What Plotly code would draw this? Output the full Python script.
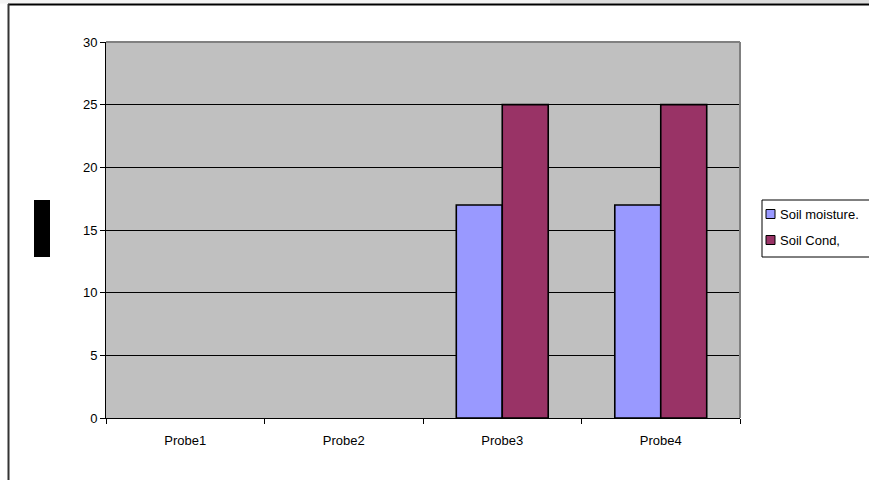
import plotly.graph_objects as go

# ── Dados ─────────────────────────────────────────────────────────────────────
probes = ["Probe1", "Probe2", "Probe3", "Probe4"]
soil_moisture = [None, None, 17, 17]
soil_cond = [None, None, 25, 25]
series_names = ["Soil moisture.", "Soil Cond,"]
series_colors = ["#9999FF", "#993366"]
y_ticks = [0, 5, 10, 15, 20, 25, 30]

# ── Geometria (pixels da janela 869x480) ──────────────────────────────────────
W, H = 869, 480
L, R, T, B = 106, 740, 42, 418


def px(x):
    return (x - L) / (R - L)


def py(y):
    return (B - y) / (B - T)


fig = go.Figure()
for vals, name, color in zip([soil_moisture, soil_cond], series_names, series_colors):
    fig.add_trace(go.Bar(
        x=probes, y=vals, name=name,
        marker=dict(color=color, line=dict(color="#000", width=1.6)),
    ))

shapes = [
    # faixa cinza no topo
    dict(type="rect", xref="paper", yref="paper", x0=px(0), x1=px(W), y0=py(3.5), y1=py(0),
         fillcolor="#f4f4f4", line_width=0, layer="below"),
    dict(type="rect", xref="paper", yref="paper", x0=px(550), x1=px(W), y0=py(3.5), y1=py(0),
         fillcolor="#dcdcdc", line_width=0, layer="below"),
    # moldura externa
    dict(type="line", xref="paper", yref="paper", x0=px(8), x1=px(W), y0=py(4.5), y1=py(4.5),
         line=dict(color="#000", width=2)),
    dict(type="line", xref="paper", yref="paper", x0=px(8.5), x1=px(8.5), y0=py(4), y1=py(H),
         line=dict(color="#333", width=2)),
    # borda superior/direita da área do gráfico
    dict(type="line", xref="paper", yref="paper", x0=0, x1=1, y0=1, y1=1,
         line=dict(color="#808080", width=2)),
    dict(type="line", xref="paper", yref="paper", x0=1, x1=1, y0=0, y1=1,
         line=dict(color="#808080", width=2)),
    # bloco preto do título do eixo Y
    dict(type="rect", xref="paper", yref="paper", x0=px(34), x1=px(50), y0=py(257), y1=py(200),
         fillcolor="#000", line_width=0),
    # caixa da legenda (corta na borda direita, como no original)
    dict(type="rect", xref="paper", yref="paper", x0=px(762), x1=px(W + 20), y0=py(257), y1=py(200),
         fillcolor="#fff", line=dict(color="#000", width=1)),
]

# ── Legenda manual ────────────────────────────────────────────────────────────
annotations = []
for i, (name, color) in enumerate(zip(series_names, series_colors)):
    yc = 214 + i * 26
    shapes.append(dict(
        type="rect", xref="paper", yref="paper",
        x0=px(766), x1=px(775), y0=py(yc + 4.5), y1=py(yc - 4.5),
        fillcolor=color, line=dict(color="#000", width=1),
    ))
    annotations.append(dict(
        text=name, xref="paper", yref="paper", x=px(778), y=py(yc),
        xanchor="left", yanchor="middle", showarrow=False,
        font=dict(size=13, color="#000"),
    ))

fig.update_layout(
    width=W, height=H,
    margin=dict(l=L, r=W - R, t=T, b=H - B),
    paper_bgcolor="#fff", plot_bgcolor="#C0C0C0",
    font=dict(family="Liberation Sans, Arial", size=13, color="#000"),
    barmode="group", bargap=0.42, bargroupgap=0,
    showlegend=False,
    shapes=shapes, annotations=annotations,
    xaxis=dict(
        showline=True, linecolor="#000", linewidth=1,
        ticks="outside", ticklen=5, tickcolor="#000", tickson="boundaries",
        ticklabelstandoff=10,
        showgrid=False, fixedrange=True,
    ),
    yaxis=dict(
        range=[0, 30], tickvals=y_ticks,
        showline=True, linecolor="#000", linewidth=1,
        ticks="outside", ticklen=5, tickcolor="#000",
        gridcolor="#000", gridwidth=1, zeroline=False, fixedrange=True,
    ),
)

fig.write_html("out.html", config={"displayModeBar": False},
               post_script="document.body.style.margin='0';")
